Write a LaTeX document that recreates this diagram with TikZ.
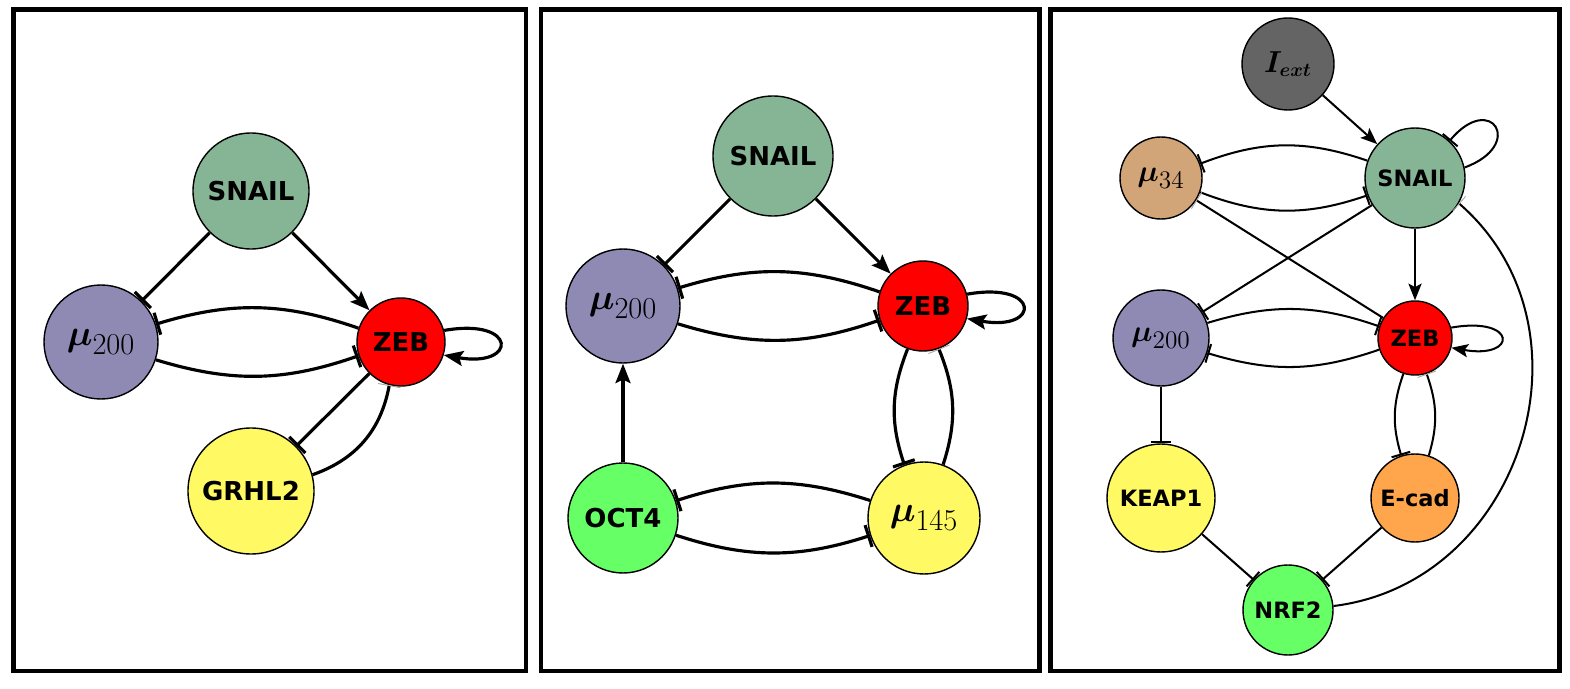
\documentclass[tikz,border=0pt]{standalone}
\usepackage{amsmath}
\usepackage{fontspec}
\newfontfamily\genefont{DejaVu Sans}
\usetikzlibrary{arrows.meta}

\DeclareMathSizes{21}{21}{16}{12}
\DeclareMathSizes{18.5}{18.5}{14}{10}

\definecolor{snailgreen}{RGB}{134,181,150}
\definecolor{mirpurple}{RGB}{142,138,180}
\definecolor{zebred}{RGB}{255,0,0}
\definecolor{geneyellow}{RGB}{255,250,100}
\definecolor{genegreen}{RGB}{102,255,102}
\definecolor{extgray}{RGB}{100,100,100}
\definecolor{mirtan}{RGB}{210,165,120}
\definecolor{ecadorange}{RGB}{255,166,77}

% tip sizes, smaller in the right panel
\newcommand\tiplen{11pt}
\newcommand\tipwid{8.5pt}
\newcommand\barwid{13pt}

\tikzset{
  gene/.style={circle, draw, line width=0.8pt, inner sep=0pt, font=\genefont\bfseries\fontsize{14.8}{16}\selectfont},
  genes/.style={gene, font=\genefont\bfseries\fontsize{12.8}{14}\selectfont},
  mir/.style={gene, font=\fontsize{21}{23}\selectfont},
  mirs/.style={gene, font=\fontsize{18.5}{20}\selectfont},
  act/.style={-{Stealth[length=\tiplen, width=\tipwid, inset=2pt]}},
  inh/.style={-{Bar[width=\barwid]}},
  weak/.style={-{Bar[width=\barwid, line width=0.5pt, color=black!35]}},
  frame/.style={line width=2.8pt}
}

\begin{document}
\begin{tikzpicture}
\useasboundingbox (0,0) rectangle (31.4,13.76);
% panel frames
\draw[frame] (0.27,0.34) rectangle (10.52,13.57);
\draw[frame] (10.82,0.34) rectangle (20.79,13.57);
\draw[frame] (21.01,0.34) rectangle (31.19,13.57);

% left panel
\begin{scope}[line width=1.8pt]
\node[gene, fill=snailgreen, minimum size=2.32cm] at (5.02,9.94) (snail1) {SNAIL};
\node[mir, fill=mirpurple, minimum size=2.28cm] at (2.02,6.92) (mu2001) {$\boldsymbol{\mu}_{200}$};
\node[gene, fill=zebred, minimum size=1.76cm] at (8.02,6.92) (zeb1) {ZEB};
\node[gene, fill=geneyellow, minimum size=2.52cm] at (5.02,3.94) (grhl21) {GRHL2};
\draw[inh] (snail1) -- (mu2001);
\draw[act] (snail1) -- (zeb1);
\draw[inh] (zeb1) to[bend right=18] (mu2001);
\draw[inh] (mu2001) to[bend right=18] (zeb1);
\draw[act] (zeb1.15) .. controls +(10:1.5) and +(-10:1.5) .. (zeb1.-17);
\draw[inh] (zeb1) -- (grhl21);
\draw[weak] (grhl21) to[bend right=30] (zeb1);
\end{scope}

% middle panel
\begin{scope}[line width=1.8pt]
\node[gene, fill=snailgreen, minimum size=2.4cm] at (15.46,10.64) (snail2) {SNAIL};
\node[mir, fill=mirpurple, minimum size=2.28cm] at (12.46,7.64) (mu2002) {$\boldsymbol{\mu}_{200}$};
\node[gene, fill=zebred, minimum size=1.8cm] at (18.46,7.64) (zeb2) {ZEB};
\node[gene, fill=genegreen, minimum size=2.2cm] at (12.46,3.40) (oct42) {OCT4};
\node[mir, fill=geneyellow, minimum size=2.24cm] at (18.48,3.40) (mu1452) {$\boldsymbol{\mu}_{145}$};
\draw[inh] (snail2) -- (mu2002);
\draw[act] (snail2) -- (zeb2);
\draw[inh] (zeb2) to[bend right=18] (mu2002);
\draw[inh] (mu2002) to[bend right=18] (zeb2);
\draw[act] (zeb2.15) .. controls +(10:1.5) and +(-10:1.5) .. (zeb2.-16);
\draw[inh] (zeb2) to[bend right=20] (mu1452);
\draw[weak] (mu1452) to[bend right=20] (zeb2);
\draw[act] (oct42) -- (mu2002);
\draw[inh] (mu1452) to[bend right=18] (oct42);
\draw[inh] (oct42) to[bend right=18] (mu1452);
\end{scope}

% right panel
\begin{scope}[line width=1.15pt]
\renewcommand\tiplen{9.5pt}
\renewcommand\tipwid{7.5pt}
\renewcommand\barwid{11pt}
\node[mirs, fill=extgray, minimum size=1.84cm, font=\fontsize{16}{18}\selectfont] at (25.76,12.48) (iext3) {$\boldsymbol{I_{ext}}$};
\node[genes, fill=snailgreen, minimum size=2.0cm] at (28.30,10.20) (snail3) {SNAIL};
\node[mirs, fill=mirtan, minimum size=1.64cm] at (23.22,10.20) (mu343) {$\boldsymbol{\mu}_{34}$};
\node[mirs, fill=mirpurple, minimum size=1.92cm] at (23.22,7.0) (mu2003) {$\boldsymbol{\mu}_{200}$};
\node[genes, fill=zebred, minimum size=1.48cm] at (28.30,7.0) (zeb3) {ZEB};
\node[genes, fill=geneyellow, minimum size=2.16cm] at (23.22,3.80) (keap13) {KEAP1};
\node[genes, fill=ecadorange, minimum size=1.76cm] at (28.30,3.80) (ecad3) {E-cad};
\node[genes, fill=genegreen, minimum size=1.8cm] at (25.76,1.56) (nrf23) {NRF2};
\draw[act] (iext3) -- (snail3);
\draw[inh] (snail3.12) .. controls +(20:1.3) and +(50:1.3) .. (snail3.47);
\draw[inh] (snail3) to[bend right=20] (mu343);
\draw[inh] (mu343) to[bend right=20] (snail3);
\draw[inh] (snail3) -- (mu2003);
\draw[weak] (zeb3) -- (mu343);
\draw[act] (snail3) -- (zeb3);
\draw[inh] (mu2003) to[bend left=18] (zeb3);
\draw[inh] (zeb3) to[bend left=18] (mu2003);
\draw[act] (zeb3.16) .. controls +(10:1.35) and +(-10:1.35) .. (zeb3.-15);
\draw[inh] (zeb3) to[bend right=18] (ecad3);
\draw[weak] (ecad3) to[bend right=18] (zeb3);
\draw[inh] (mu2003) -- (keap13);
\draw[inh] (keap13) -- (nrf23);
\draw[inh] (ecad3) -- (nrf23);
\draw[weak] (nrf23.5) .. controls +(7:3.8) and +(-41:3.8) .. (snail3.-30);
\end{scope}
\end{tikzpicture}
\end{document}
